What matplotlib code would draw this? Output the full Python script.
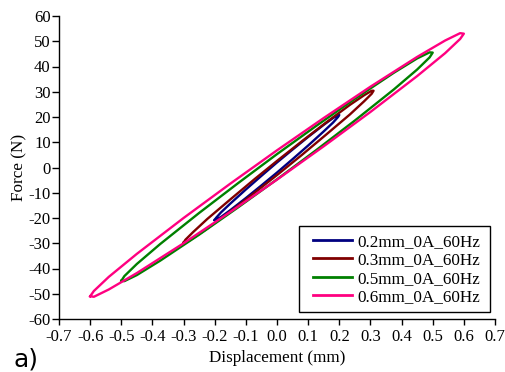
import matplotlib
matplotlib.use("Agg")
import matplotlib.pyplot as plt
from matplotlib.patches import Rectangle

labels = ["0.2mm_0A_60Hz", "0.3mm_0A_60Hz", "0.5mm_0A_60Hz", "0.6mm_0A_60Hz"]
colors = ["#000080", "#800000", "#008000", "#ff0080"]

# Displacement samples (mm) along each loop and the force (N) read on the
# upper (unloading) and lower (loading) branches
x_02 = [-0.2, -0.196, -0.18, -0.15, -0.1, -0.05, 0.0, 0.05, 0.1, 0.15, 0.18, 0.196, 0.2]
up_02 = [-20.8, -20.0, -17.8, -14.3, -8.7, -3.3, 2.0, 7.1, 12.1, 16.9, 19.6, 20.8, 20.8]
lo_02 = [-20.8, -20.8, -19.6, -16.9, -12.1, -7.1, -2.0, 3.3, 8.7, 14.3, 17.8, 20.0, 20.8]

x_03 = [-0.3, -0.294, -0.2695, -0.224, -0.1475, -0.071, 0.005, 0.081, 0.1575, 0.234, 0.2795, 0.304, 0.31]
up_03 = [-29.8, -28.6, -25.6, -20.4, -12.4, -4.5, 3.1, 10.5, 17.8, 24.8, 28.6, 30.4, 30.4]
lo_03 = [-29.8, -29.8, -28.0, -24.2, -17.2, -9.9, -2.5, 5.1, 13.0, 21.0, 26.2, 29.2, 30.4]

x_05 = [-0.5, -0.49, -0.45, -0.375, -0.25, -0.125, 0.0, 0.125, 0.25, 0.375, 0.45, 0.49, 0.5]
up_05 = [-44.9, -43.0, -38.2, -30.3, -18.0, -6.2, 5.3, 16.4, 27.2, 37.5, 43.2, 45.6, 45.5]
lo_05 = [-44.9, -45.0, -42.6, -36.9, -26.6, -15.8, -4.7, 6.8, 18.6, 30.9, 38.8, 43.6, 45.5]

x_06 = [-0.6, -0.588, -0.54, -0.45, -0.3, -0.15, 0.0, 0.15, 0.3, 0.45, 0.54, 0.588, 0.6]
up_06 = [-51.0, -48.9, -43.3, -34.2, -20.0, -6.4, 6.8, 19.6, 32.0, 43.8, 50.3, 53.2, 53.0]
lo_06 = [-51.0, -51.2, -48.3, -41.8, -30.0, -17.6, -4.8, 8.4, 22.0, 36.2, 45.3, 50.9, 53.0]

loops = [(x_02, up_02, lo_02), (x_03, up_03, lo_03), (x_05, up_05, lo_05), (x_06, up_06, lo_06)]

xticks = [-0.7, -0.6, -0.5, -0.4, -0.3, -0.2, -0.1, 0.0, 0.1, 0.2, 0.3, 0.4, 0.5, 0.6, 0.7]
yticks = [-60, -50, -40, -30, -20, -10, 0, 10, 20, 30, 40, 50, 60]

plt.rcParams['font.family'] = ['Liberation Serif', 'DejaVu Serif']

fig = plt.figure(figsize=(5.06, 3.72), dpi=100)
ax = fig.add_axes([59/506, 1-319/372, (495-59)/506, (319-16)/372])

for (xs, up, lo), lab, col in zip(loops, labels, colors):
    px = list(xs) + list(xs[::-1])
    py = list(lo) + list(up[::-1])
    ax.plot(px, py, color=col, lw=1.7, label=lab, solid_joinstyle='round')

ax.set_xlim(-0.7, 0.7)
ax.set_ylim(-60, 60)
ax.set_xticks(xticks)
ax.set_xticklabels([f"{v:.1f}" for v in xticks])
ax.set_yticks(yticks)
ax.set_yticklabels([str(v) for v in yticks])
ax.tick_params(axis='x', direction='out', length=4.5, width=1, labelsize=12, pad=3)
ax.tick_params(axis='y', direction='out', length=5, width=1, labelsize=12, pad=1)
for s in ['top', 'right']:
    ax.spines[s].set_visible(False)
for s in ['left', 'bottom']:
    ax.spines[s].set_linewidth(1)

ax.set_xlabel("Displacement (mm)", fontsize=12.3, labelpad=3)
ax.set_ylabel("Force (N)", fontsize=12.3, labelpad=1)

# legend frame drawn separately (wide left margin as in the original)
frame = Rectangle((299/506, 1-312/372), (490-299)/506, (312-226)/372,
                  transform=fig.transFigure, facecolor='white',
                  edgecolor='black', lw=1, zorder=5, clip_on=False)
ax.add_patch(frame)
leg = ax.legend(loc='upper left', bbox_to_anchor=(313/506, 1-234/372), bbox_transform=fig.transFigure,
                fontsize=12.3, frameon=False,
                handlelength=2.3, handletextpad=0.3, borderpad=0, labelspacing=0.14,
                borderaxespad=0)
leg.set_zorder(6)
for h in leg.get_lines():
    h.set_linewidth(2)

fig.text(14/506, 1-367/372, "a)", fontsize=18, ha='left', va='baseline', family='DejaVu Sans')

fig.savefig("out.png", dpi=100)
